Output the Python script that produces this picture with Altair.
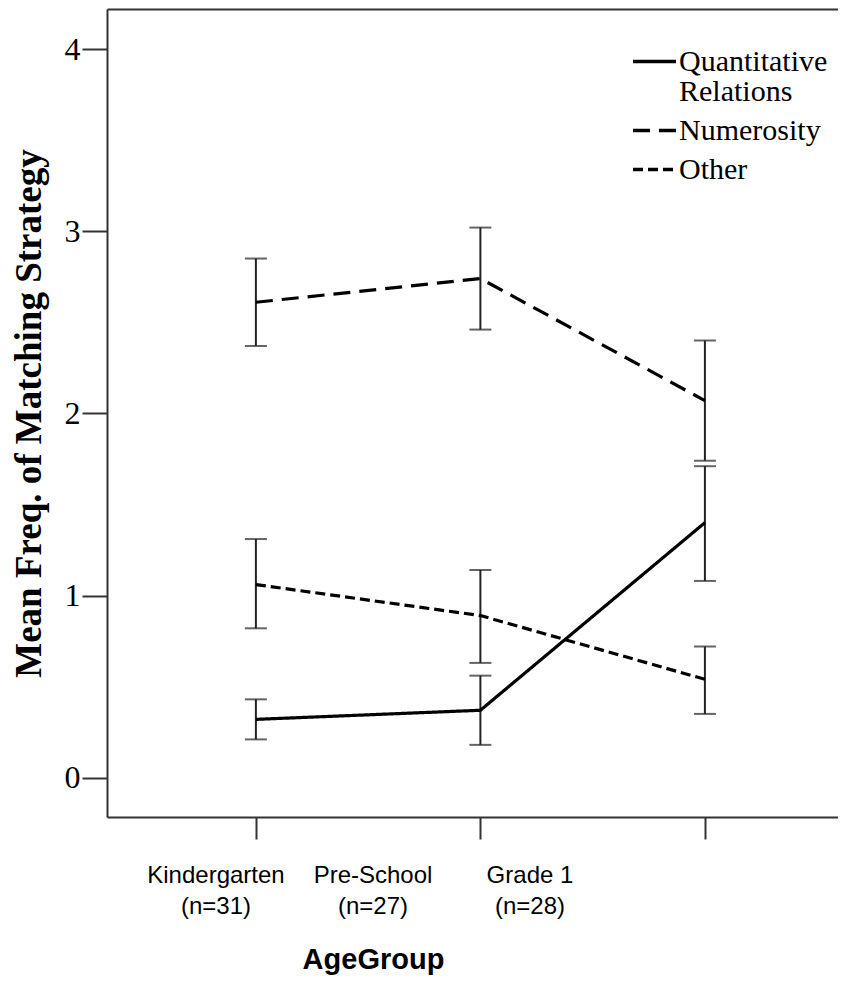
import altair as alt
import pandas as pd

# ---- data ----
categories = ["Kindergarten", "Pre-School", "Grade 1"]
group_sizes = [31, 27, 28]
series_names = ["Quantitative Relations", "Numerosity", "Other"]

qr_mean = [0.32, 0.37, 1.40]
qr_low = [0.21, 0.18, 1.08]
qr_high = [0.43, 0.56, 1.71]

num_mean = [2.61, 2.74, 2.07]
num_low = [2.37, 2.46, 1.74]
num_high = [2.85, 3.02, 2.40]

oth_mean = [1.06, 0.89, 0.54]
oth_low = [0.82, 0.63, 0.35]
oth_high = [1.31, 1.14, 0.72]

y_ticks = [0, 1, 2, 3, 4]

rows = []
for name, m, lo, hi in zip(series_names,
                           [qr_mean, num_mean, oth_mean],
                           [qr_low, num_low, oth_low],
                           [qr_high, num_high, oth_high]):
    for i, c in enumerate(categories):
        rows.append(dict(group=c, series=name, mean=m[i], low=lo[i], high=hi[i]))
df = pd.DataFrame(rows)

labels_df = pd.DataFrame({
    "idx": list(range(len(categories))),
    "label": [f"{c}\n(n={n})" for c, n in zip(categories, group_sizes)],
})

SERIF = "Liberation Serif, Times New Roman, serif"
SANS = "Liberation Sans Narrow, Arial Narrow, Liberation Sans, Arial, sans-serif"
FRAME = "#333333"
W, H = 731, 808

xscale = alt.Scale(type="point", domain=categories, padding=0.628, align=0.528)
yscale = alt.Scale(domain=[-0.216, 4.22], nice=False, zero=False)

xaxis = alt.Axis(
    labels=False, title="AgeGroup", titleFont=SANS, titleFontSize=29,
    titleFontWeight="bold", titleColor="black", titleX=266, titleY=151,
    titleAlign="center", titleBaseline="alphabetic", titleAnchor="start",
    tickSize=22, tickWidth=2, tickColor=FRAME, domainColor=FRAME,
    domainWidth=2, grid=False,
)
yaxis = alt.Axis(
    values=y_ticks, format="d", title="Mean Freq. of Matching Strategy",
    titleFont=SERIF, titleFontSize=37, titleFontWeight="bold",
    titleColor="black", titlePadding=16,
    labelFont=SERIF, labelFontSize=32, labelColor="black", labelPadding=2,
    tickSize=25, tickWidth=2, tickColor=FRAME, domainColor=FRAME,
    domainWidth=2, grid=False,
)

base = alt.Chart(df)
x_enc = alt.X("group:N", sort=categories, scale=xscale, axis=xaxis)

bars = base.mark_rule(color="#222222", strokeWidth=2).encode(
    x=x_enc,
    y=alt.Y("low:Q", scale=yscale, axis=yaxis),
    y2="high:Q",
)
caps_low = base.mark_tick(color="#222222", size=22, thickness=2).encode(
    x=x_enc, y=alt.Y("low:Q", scale=yscale, axis=yaxis)
)
caps_high = base.mark_tick(color="#222222", size=22, thickness=2).encode(
    x=x_enc, y=alt.Y("high:Q", scale=yscale, axis=yaxis)
)
lines = base.mark_line(color="black", strokeWidth=3.2).encode(
    x=x_enc,
    y=alt.Y("mean:Q", scale=yscale, axis=yaxis),
    strokeDash=alt.StrokeDash(
        "series:N",
        scale=alt.Scale(domain=series_names, range=[[1, 0], [17, 9], [10, 5]]),
        legend=alt.Legend(
            orient="none", legendX=524, legendY=29, title=None,
            symbolType="stroke", symbolSize=1849, symbolStrokeWidth=3.5,
            symbolStrokeColor="black", labelFont=SERIF, labelFontSize=30,
            labelColor="black", labelLimit=400, labelOffset=1,
            labelExpr="split(datum.label, ' ')", rowPadding=-2,
        ),
    ),
)

plot = alt.layer(bars, caps_low, caps_high, lines)

xlabels = alt.Chart(labels_df).mark_text(
    font=SANS, fontSize=24, lineBreak="\n", lineHeight=31,
    align="center", baseline="alphabetic", color="black",
).encode(
    x=alt.X("idx:Q", scale=alt.Scale(domain=[-0.6943, 3.962], nice=False, zero=False),
            axis=alt.Axis(orient="top", labels=False, ticks=False, grid=False,
                          title=None, domainColor=FRAME, domainWidth=2)),
    y=alt.value(874),
    text="label:N",
)

chart = alt.layer(plot, xlabels).resolve_scale(
    x="independent"
).properties(
    width=W, height=H, autosize="none",
    padding={"left": 99, "top": 1, "right": 0, "bottom": 158},
).configure(
    style={"guide-label": {"lineHeight": 30}}
).configure_view(stroke=None)

chart.save("out.html", embed_options={"renderer": "svg", "actions": False})
